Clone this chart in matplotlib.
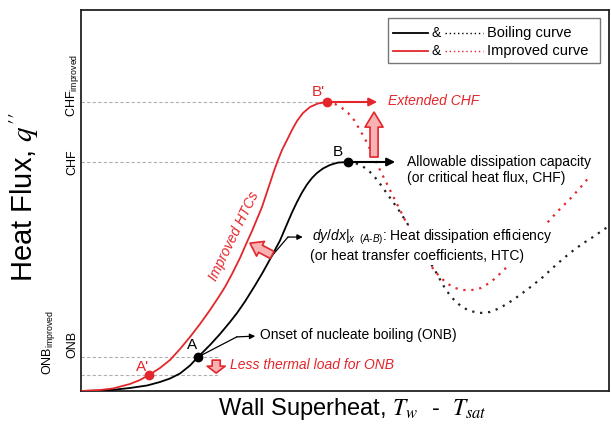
"""
Boiling curve vs. improved boiling curve (conceptual sketch)
"""
import matplotlib
matplotlib.use('Agg')
from matplotlib import pyplot as plt
from matplotlib.patches import Rectangle
from matplotlib.transforms import blended_transform_factory

plt.rcParams['font.family'] = ['Liberation Sans', 'DejaVu Sans']
plt.rcParams['mathtext.fontset'] = 'custom'
plt.rcParams['mathtext.rm'] = 'Liberation Sans'
plt.rcParams['mathtext.it'] = 'Liberation Sans:italic'

RED = '#e3262b'
PINK = '#f7b3b3'
GREY = '#b0b0b0'

# boiling curve: solid up to CHF, dotted beyond
boil_x = [0, 3.60, 6.06, 9.28, 12.50, 14.96, 16.86, 18.75, 20.64, 22.16, 24.43, 26.33, 28.22,
          29.55, 31.06, 32.95, 34.47, 35.98, 37.69, 39.02, 39.96, 40.91, 41.86, 42.80, 43.75,
          44.70, 45.83, 47.16, 48.67, 50.57]
boil_y = [0, 0.10, 0.31, 0.79, 1.44, 2.36, 3.28, 4.59, 6.69, 8.92, 12.07, 14.96, 18.11,
          20.47, 23.49, 27.69, 31.23, 35.04, 39.50, 43.83, 46.85, 49.61, 52.10, 54.20, 55.91,
          57.22, 58.40, 59.32, 59.95, 60.10]
boil_post_x = [50.57, 51.89, 53.22, 54.36, 55.30, 56.25, 57.20, 58.14, 59.09, 60.42, 61.74,
               63.26, 64.58, 66.10, 67.42, 68.56, 69.70, 70.83, 72.16, 73.67, 75.57, 77.46,
               79.36, 81.82, 84.66, 87.50, 90.15, 92.61, 94.89, 96.97, 100.0]
boil_post_y = [60.10, 59.84, 59.06, 58.01, 56.69, 55.12, 53.28, 51.44, 49.61, 46.98, 44.09,
               40.68, 37.27, 33.86, 30.71, 27.82, 25.46, 23.62, 22.05, 21.00, 20.47, 20.73,
               21.78, 23.88, 26.77, 29.92, 33.33, 36.22, 38.58, 40.42, 43.31]

# improved curve
imp_x = [0, 3.60, 6.06, 9.28, 11.17, 12.88, 14.96, 16.86, 18.75, 20.64, 22.54, 24.43, 25.95,
         27.27, 28.60, 30.11, 31.44, 32.39, 33.33, 34.28, 35.04, 35.80, 36.55, 37.31, 38.07,
         39.02, 39.96, 40.91, 42.05, 43.37, 44.89, 46.59]
imp_y = [0, 0.26, 0.66, 1.84, 2.89, 4.20, 6.04, 8.14, 11.02, 14.17, 17.59, 21.26, 24.41,
         27.30, 30.71, 34.91, 39.11, 41.99, 45.14, 48.29, 51.44, 54.59, 57.74, 60.63, 63.25,
         65.88, 68.50, 70.87, 72.97, 74.54, 75.46, 75.85]
imp_post_x = [46.59, 48.11, 49.43, 50.57, 51.70, 52.84, 53.98, 55.11, 56.25, 57.39, 58.52,
              59.66, 60.80, 61.93, 63.07, 64.20, 65.53, 66.86, 68.18, 69.51, 70.83, 72.35,
              74.05, 75.76, 77.65, 79.92, 82.20, 85.04, 88.26, 90.34, 92.61, 94.51, 96.40]
imp_post_y = [75.85, 75.33, 74.28, 72.97, 71.13, 68.50, 65.62, 62.47, 59.06, 55.91, 52.76,
              49.61, 46.46, 43.31, 40.16, 37.27, 34.38, 31.76, 29.66, 28.08, 27.03, 26.51,
              26.51, 27.03, 28.61, 31.50, 34.91, 39.11, 44.09, 47.24, 50.39, 53.28, 56.43]

# characteristic points
onb = (22.16, 8.92)       # A
chf = (50.57, 60.10)      # B
onb_imp = (12.88, 4.20)   # A'
chf_imp = (46.59, 75.85)  # B'

dotted = (0, (1, 2.6))


def block_arrow(ax, tail, tip, head_len, head_w, tail_w):
    style = 'simple,head_length=%g,head_width=%g,tail_width=%g' % (head_len, head_w, tail_w)
    ax.annotate('', xy=tip, xytext=tail,
                arrowprops=dict(arrowstyle=style, mutation_scale=1, fc=PINK, ec=RED,
                                lw=1.2, shrinkA=0, shrinkB=0), zorder=6)


def main():
    fig = plt.figure(figsize=(6.11, 4.34), dpi=100)
    ax = fig.add_axes([0.1326, 0.0991, 0.8641, 0.8779])
    ax.set_xlim(0, 100)
    ax.set_ylim(0, 100)
    ax.set_xticks([])
    ax.set_yticks([])
    for s in ax.spines.values():
        s.set_linewidth(1.3)
        s.set_color('#222222')

    # reference lines
    ax.plot([0, chf_imp[0]], [chf_imp[1]] * 2, color=GREY, lw=0.8, ls=(0, (3, 2)), zorder=1)
    ax.plot([0, chf[0]], [chf[1]] * 2, color=GREY, lw=0.8, ls=(0, (3, 2)), zorder=1)
    ax.plot([0, 26.3], [onb[1]] * 2, color=GREY, lw=0.8, ls=(0, (3, 2)), zorder=1)
    ax.plot([0, 26.3], [onb_imp[1]] * 2, color=GREY, lw=0.8, ls=(0, (3, 2)), zorder=1)

    # curves
    ax.plot(boil_x, boil_y, color='black', lw=1.3, zorder=3)
    ax.plot(boil_post_x, boil_post_y, color='#222222', lw=1.6, ls=dotted, zorder=2)
    ax.plot(imp_x, imp_y, color=RED, lw=1.3, zorder=3)
    ax.plot(imp_post_x, imp_post_y, color=RED, lw=1.6, ls=dotted, zorder=2)

    # points
    ax.plot(*onb, 'o', color='black', ms=6, zorder=7)
    ax.plot(*chf, 'o', color='black', ms=6, zorder=7)
    ax.plot(*onb_imp, 'o', color=RED, ms=6, zorder=7)
    ax.plot(*chf_imp, 'o', color=RED, ms=6, zorder=7)
    ax.text(21.0, 12.1, 'A', fontsize=11, ha='center', va='center')
    ax.text(48.7, 62.7, 'B', fontsize=11, ha='center', va='center')
    ax.text(11.7, 6.3, "A'", fontsize=11, ha='center', va='center', color=RED)
    ax.text(44.9, 78.5, "B'", fontsize=11, ha='center', va='center', color=RED)

    # CHF arrows
    ax.annotate('', xy=(56.1, chf_imp[1]), xytext=chf_imp,
                arrowprops=dict(arrowstyle='-|>', color=RED, lw=1.5, mutation_scale=12,
                                shrinkA=0, shrinkB=0), zorder=5)
    ax.text(58.1, 76.1, 'Extended CHF', color=RED, fontsize=10, style='italic', va='center')
    ax.annotate('', xy=(59.5, chf[1]), xytext=chf,
                arrowprops=dict(arrowstyle='-|>', color='black', lw=1.5, mutation_scale=12,
                                shrinkA=0, shrinkB=0), zorder=5)
    ax.text(61.7, 58.1, 'Allowable dissipation capacity\n(or critical heat flux, CHF)',
            fontsize=10, va='center', linespacing=1.2)

    # HTC leader
    ax.plot([36.0, 39.2], [35.2, 40.4], color='black', lw=0.9, zorder=4)
    ax.annotate('', xy=(42.0, 40.4), xytext=(39.2, 40.4),
                arrowprops=dict(arrowstyle='-|>', color='black', lw=0.9, mutation_scale=8,
                                shrinkA=0, shrinkB=0))
    ax.text(43.75, 40.4, r'$dy/dx|_{x\ \ (A\text{-}B)}$: Heat dissipation efficiency',
            fontsize=10, va='center', zorder=4,
            bbox=dict(fc='white', ec='none', pad=1))
    ax.text(43.4, 35.4, '(or heat transfer coefficients, HTC)', fontsize=10, va='center',
            zorder=4, bbox=dict(fc='white', ec='none', pad=1))

    # ONB leader
    ax.plot([onb[0], 29.5], [onb[1], 14.2], color='black', lw=0.9, zorder=4)
    ax.annotate('', xy=(33.0, 14.4), xytext=(29.5, 14.2),
                arrowprops=dict(arrowstyle='-|>', color='black', lw=0.9, mutation_scale=8,
                                shrinkA=0, shrinkB=0))
    ax.text(33.9, 14.7, 'Onset of nucleate boiling (ONB)', fontsize=10, va='center')
    ax.text(28.2, 6.8, 'Less thermal load for ONB', color=RED, fontsize=10,
            style='italic', va='center')

    # block arrows
    block_arrow(ax, (55.5, 61.4), (55.5, 73.2), 10.8, 13, 5.8)
    block_arrow(ax, (25.6, 8.1), (25.6, 4.7), 5.0, 13, 5.8)
    block_arrow(ax, (36.2, 35.7), (32.0, 38.8), 8.6, 12, 5.8)
    ax.text(29.0, 40.7, 'Improved HTCs', color=RED, fontsize=10, style='italic',
            rotation=64, rotation_mode='anchor', ha='center', va='center')

    # y "tick" labels
    trans = blended_transform_factory(ax.transAxes, ax.transData)
    ax.text(-0.017, 71.9, r'CHF$_{\mathrm{improved}}$', transform=trans, rotation=90,
            ha='center', va='bottom', fontsize=9)
    ax.text(-0.017, chf[1], 'CHF', transform=trans, rotation=90, ha='center', va='center', fontsize=9)
    ax.text(-0.017, 8.7, 'ONB', transform=trans, rotation=90, ha='center', va='bottom', fontsize=9)
    ax.text(-0.0625, 4.2, r'ONB$_{\mathrm{improved}}$', transform=trans, rotation=90,
            ha='center', va='bottom', fontsize=9)

    # axis labels
    ax.text(-0.108, 50.9, "Heat Flux, $q''$", transform=trans, rotation=90, ha='center',
            va='center', fontsize=21, math_fontfamily='stix')
    ax.text(0.259, -0.063, 'Wall Superheat, $T_w$  -  $T_{sat}$', transform=ax.transAxes,
            ha='left', va='baseline', fontsize=17, math_fontfamily='stix')

    # legend (drawn by hand: solid & dotted per curve)
    ax.add_patch(Rectangle((0.581, 0.861), 0.402, 0.118, transform=ax.transAxes,
                           fill=False, ec='#777777', lw=1, zorder=8))
    for yy, col, lab in [(0.940, 'black', 'Boiling curve'), (0.892, RED, 'Improved curve')]:
        ax.plot([0.591, 0.657], [yy, yy], color=col, lw=1.3, transform=ax.transAxes, zorder=8)
        ax.text(0.672, yy, '&', transform=ax.transAxes, ha='center', va='center', fontsize=10)
        ax.plot([0.689, 0.761], [yy, yy], color=col, lw=1.0, ls=(0, (1, 2)),
                transform=ax.transAxes, zorder=8)
        ax.text(0.769, yy, lab, transform=ax.transAxes, va='center', fontsize=10.5)

    fig.savefig('out.png', dpi=100)


if __name__ == '__main__':
    main()
